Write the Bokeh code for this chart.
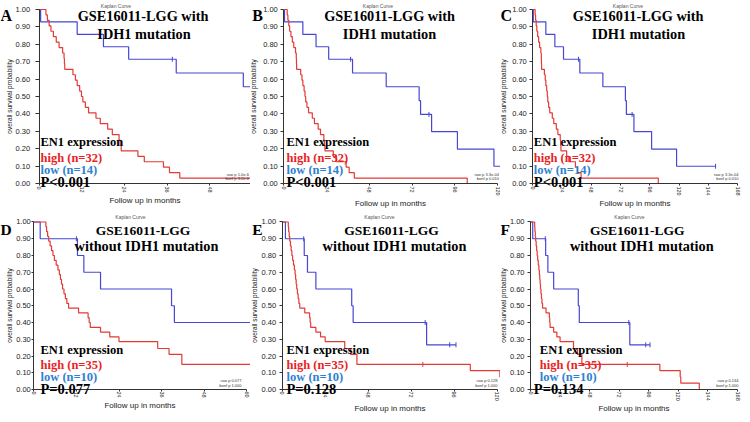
import math
from bokeh.plotting import figure
from bokeh.layouts import gridplot
from bokeh.models import Range1d, FixedTicker, Label, PrintfTickFormatter
from bokeh.embed import file_html
from bokeh.resources import INLINE

# ---------------- data ----------------
# GSE16011-LGG with IDH1 mutation, EN1 high (n=32)
HIGH_MUT_T = [0, 1.9, 2.3, 2.8, 3.3, 4.0, 4.8, 5.6, 6.6, 7.0, 7.1, 7.2, 9.5, 10.2, 10.7,
              11.4, 11.9, 12.3, 13.0, 13.9, 16.0, 17.2, 19.3, 20.6, 22.5, 22.8, 23.1,
              27.8, 29.6, 35.0, 36.7, 39.6, 103.0]
HIGH_MUT_S = [1.000, 0.969, 0.938, 0.906, 0.875, 0.844, 0.812, 0.781, 0.750, 0.719, 0.688,
              0.656, 0.625, 0.594, 0.562, 0.531, 0.500, 0.469, 0.438, 0.406, 0.375, 0.344,
              0.312, 0.281, 0.250, 0.219, 0.188, 0.156, 0.125, 0.094, 0.062, 0.031, 0.000]
# EN1 low (n=14)
LOW_MUT_T = [0, 0.4, 10.7, 18.1, 25.2, 38.6, 57.5, 76.0, 76.8, 83.0, 97.5, 118.0, 150.0]
LOW_MUT_S = [1.000, 0.929, 0.857, 0.786, 0.714, 0.635, 0.556, 0.476, 0.397, 0.298, 0.198,
             0.099, 0.099]
LOW_MUT_CENS_T = [37.5, 81.5, 150.0]
LOW_MUT_CENS_S = [0.714, 0.397, 0.099]

# GSE16011-LGG without IDH1 mutation, EN1 high (n=35)
HIGH_NO_T = [0, 3.4, 3.6, 3.9, 4.2, 4.6, 5.0, 5.4, 5.8, 6.3, 6.8, 7.2, 7.5, 7.8, 8.1, 8.5,
             8.9, 9.3, 9.8, 12.6, 15.3, 15.6, 15.9, 18.8, 21.4, 24.0, 34.9, 38.1, 41.7,
             105.0, 121.5, 122.0, 137.0]
HIGH_NO_S = [1.000, 0.971, 0.943, 0.914, 0.886, 0.857, 0.829, 0.800, 0.771, 0.743, 0.714,
             0.686, 0.657, 0.629, 0.600, 0.571, 0.543, 0.514, 0.486, 0.457, 0.429, 0.400,
             0.371, 0.343, 0.314, 0.286, 0.245, 0.210, 0.150, 0.113, 0.075, 0.038, 0.000]
HIGH_NO_CENS_T = [78.5]
HIGH_NO_CENS_S = [0.150]
# EN1 low (n=10)
LOW_NO_T = [0, 1.8, 12.3, 14.1, 18.8, 38.8, 39.6, 80.6, 97.0]
LOW_NO_S = [1.000, 0.900, 0.800, 0.700, 0.600, 0.500, 0.400, 0.267, 0.267]
LOW_NO_CENS_T = [12.0, 79.8, 93.5, 97.0]
LOW_NO_CENS_S = [0.900, 0.400, 0.267, 0.267]

Y_TICKS = [0.0, 0.1, 0.2, 0.3, 0.4, 0.5, 0.6, 0.7, 0.8, 0.9, 1.0]
X_TICKS_60 = [0, 12, 24, 36, 48, 60]
X_TICKS_120 = [0, 24, 48, 72, 96, 120]
X_TICKS_168 = [0, 24, 48, 72, 96, 120, 144, 168]
X_AXIS_END = {"A": 60, "B": 120, "C": 168, "D": 60, "E": 120, "F": 168}

PANEL_LETTERS = ["A", "B", "C", "D", "E", "F"]
TITLE_MUT = ["GSE16011-LGG with", "IDH1 mutation"]
TITLE_NO = ["GSE16011-LGG", "without IDH1 mutation"]
HIGH_MUT_LABEL = "high (n=32)"
LOW_MUT_LABEL = "low (n=14)"
HIGH_NO_LABEL = "high (n=35)"
LOW_NO_LABEL = "low (n=10)"
P_TEXT = {"A": "P<0.001", "B": "P<0.001", "C": "P<0.001",
          "D": "P=0.077", "E": "P=0.128", "F": "P=0.134"}
RAW_P = {"A": ("raw p 1.0e-6", "bonf p 3.2e-6"),
         "B": ("raw p 3.3e-04", "bonf p 0.010"),
         "C": ("raw p 3.3e-04", "bonf p 0.010"),
         "D": ("raw p 0.077", "bonf p 1.000"),
         "E": ("raw p 0.128", "bonf p 1.000"),
         "F": ("raw p 0.134", "bonf p 1.000")}

# ---------------- layout (pixel positions measured on the reference) ----------------
COLS = {"A": (0, 250), "B": (250, 250), "C": (500, 242),
        "D": (0, 250), "E": (250, 250), "F": (500, 242)}
ROW1_H = 208
ROW2_H = 206
ROW2_SCALE = 0.963
LAYOUT = {
    "A": dict(x0=38.7, x1=38.7 + 60 * 3.55, yto=4, yls=5, yals=0, letter=0,
              t1=142.5, t2=143.5, kc=115.5, ann=40, annP=40, raw=248.5),
    "B": dict(x0=283.3, x1=497, yto=3, yls=3, yals=3, letter=251.7,
              t1=389, t2=389, kc=377.5, ann=286, annP=286, raw=498.5),
    "C": dict(x0=532.3, x1=737, yto=3, yls=3, yals=2, letter=500,
              t1=637.7, t2=638, kc=627.5, ann=533.3, annP=533.3, raw=738),
    "D": dict(x0=33.3, x1=246.3, yto=2, yls=1, yals=0, letter=0,
              t1=142.5, t2=146, kc=130, ann=40, annP=40, raw=241),
    "E": dict(x0=281.7, x1=496.7, yto=3, yls=3, yals=1, letter=251.7,
              t1=391, t2=394, kc=379, ann=286, annP=286, raw=497),
    "F": dict(x0=530, x1=737, yto=3, yls=3, yals=0, letter=500,
              t1=636.7, t2=641.3, kc=629, ann=539.3, annP=533.3, raw=738),
}
Y_TOP_1, Y_ZERO_1 = 9, 183
ROW1_Y = dict(letter=15, t1=15, t2=33, kc=5, en1=141.5, high=157.5, low=169.5, p=181.7,
              raw=174, bonf=178)
ROW2_Y = dict(letter=233, t1=234, t2=249.5, kc=219.5, en1=357.5, high=373, low=386, p=398.7,
              raw=390, bonf=394.5, top=225, zero=399)


def row2_map(y):
    # the bottom row is squeezed slightly so the whole fits 742x414
    return ROW1_H + (y - 211) * ROW2_SCALE


RED = "#e23b36"
BLUE = "#4747d3"
RED_TXT = "#e8221f"
BLUE_TXT = "#2f80d2"
SERIF = "Liberation Serif"
SANS = "Liberation Sans"


def make_panel(key):
    c = LAYOUT[key]
    fx, w = COLS[key]
    row1 = key in ("A", "B", "C")
    fy = 0 if row1 else ROW1_H
    h = ROW1_H if row1 else ROW2_H
    if row1:
        Y = dict(ROW1_Y)
        ytop, yzero = Y_TOP_1, Y_ZERO_1
    else:
        Y = {k: row2_map(v) for k, v in ROW2_Y.items()}
        ytop, yzero = Y["top"], Y["zero"]
    xend = X_AXIS_END[key]
    ppm = (c["x1"] - c["x0"]) / xend
    ppu = (yzero - ytop)
    x_start = (fx - c["x0"]) / ppm
    x_stop = (fx + w - c["x0"]) / ppm
    y_start = (yzero - (fy + h)) / ppu
    y_stop = (yzero - fy) / ppu

    p = figure(width=w, height=h, output_backend="svg", toolbar_location=None,
               x_range=Range1d(x_start, x_stop), y_range=Range1d(y_start, y_stop),
               min_border=0, min_border_left=0, min_border_right=0,
               min_border_top=0, min_border_bottom=0)
    p.outline_line_color = None
    p.xgrid.visible = False
    p.ygrid.visible = False
    p.background_fill_color = "white"
    p.border_fill_color = "white"

    xt = X_TICKS_60 if key in ("A", "D") else (X_TICKS_120 if key in ("B", "E") else X_TICKS_168)
    p.xaxis.ticker = FixedTicker(ticks=xt)
    p.yaxis.ticker = FixedTicker(ticks=Y_TICKS)
    p.yaxis.formatter = PrintfTickFormatter(format="%.2f")
    p.xaxis.fixed_location = 0
    p.yaxis.fixed_location = 0
    p.xaxis.bounds = (0, xend)
    p.yaxis.bounds = (0, 1)
    for ax in (p.xaxis[0], p.yaxis[0]):
        ax.axis_line_color = "#333333"
        ax.major_tick_line_color = "#333333"
        ax.minor_tick_line_color = None
        ax.major_tick_in = 0
        ax.major_label_text_font = SANS
        ax.major_label_text_color = "#222222"
        ax.axis_label_text_font = SANS
        ax.axis_label_text_font_style = "normal"
        ax.axis_label_text_color = "#222222"
    p.yaxis.major_tick_out = c["yto"]
    p.yaxis.major_label_standoff = c["yls"]
    p.yaxis.axis_label_standoff = c["yals"]
    p.yaxis.major_label_text_font_size = "7.5px"
    p.yaxis.axis_label = "overall survival probability"
    p.yaxis.axis_label_text_font_size = "6.5px"

    p.xaxis.major_tick_out = 2
    p.xaxis.major_label_standoff = 1 if row1 else 0
    p.xaxis.axis_label_standoff = 0
    p.xaxis.major_label_orientation = "vertical"
    p.xaxis.major_label_text_font_size = "5.5px"
    p.xaxis.axis_label = "Follow up in months"
    p.xaxis.axis_label_text_font_size = "8px"

    if row1:
        ht, hs, lt, ls = HIGH_MUT_T, HIGH_MUT_S, LOW_MUT_T, LOW_MUT_S
        ct_lo, cs_lo, ct_hi, cs_hi = LOW_MUT_CENS_T, LOW_MUT_CENS_S, [], []
        titles, hl, ll = TITLE_MUT, HIGH_MUT_LABEL, LOW_MUT_LABEL
    else:
        ht, hs, lt, ls = HIGH_NO_T, HIGH_NO_S, LOW_NO_T, LOW_NO_S
        ct_lo, cs_lo, ct_hi, cs_hi = LOW_NO_CENS_T, LOW_NO_CENS_S, HIGH_NO_CENS_T, HIGH_NO_CENS_S
        titles, hl, ll = TITLE_NO, HIGH_NO_LABEL, LOW_NO_LABEL

    p.step(lt, ls, mode="after", line_color=BLUE, line_width=1.2)
    p.step(ht, hs, mode="after", line_color=RED, line_width=1.2)
    if ct_lo:
        p.scatter(ct_lo, cs_lo, marker="dash", angle=math.pi / 2, size=5,
                  line_color=BLUE, line_width=1)
    if ct_hi:
        p.scatter(ct_hi, cs_hi, marker="dash", angle=math.pi / 2, size=5,
                  line_color=RED, line_width=1)

    def put(text, px, py, size, color="black", font=SERIF, bold=True, align="left"):
        p.add_layout(Label(x=px - fx, y=(fy + h) - py, x_units="screen", y_units="screen",
                           text=text, text_font=font, text_font_size=f"{size}px",
                           text_font_style="bold" if bold else "normal", text_color=color,
                           text_align=align, text_baseline="alphabetic"))

    put("Kaplan Curve", c["kc"], Y["kc"], 5, color="#555555", font=SANS, bold=False,
        align="center")
    put(key, c["letter"], Y["letter"], 16 if row1 else 15.5)
    put(titles[0], c["t1"], Y["t1"], 14.3 if row1 else 13.5, align="center")
    put(titles[1], c["t2"], Y["t2"], 14.3, align="center")

    put("EN1 expression", c["ann"], Y["en1"], 12.5)
    put(hl, c["ann"], Y["high"], 12.5, color=RED_TXT)
    put(ll, c["ann"], Y["low"], 12.5, color=BLUE_TXT)
    put(P_TEXT[key], c["annP"], Y["p"], 14.5)

    r1, r2 = RAW_P[key]
    put(r1, c["raw"], Y["raw"], 4, color="#333333", font=SANS, bold=False, align="right")
    put(r2, c["raw"], Y["bonf"], 4, color="#333333", font=SANS, bold=False, align="right")
    return p


panels = [make_panel(k) for k in PANEL_LETTERS]
grid = gridplot([panels[:3], panels[3:]], toolbar_location=None)

open("out.html", "w").write(file_html(grid, INLINE))
